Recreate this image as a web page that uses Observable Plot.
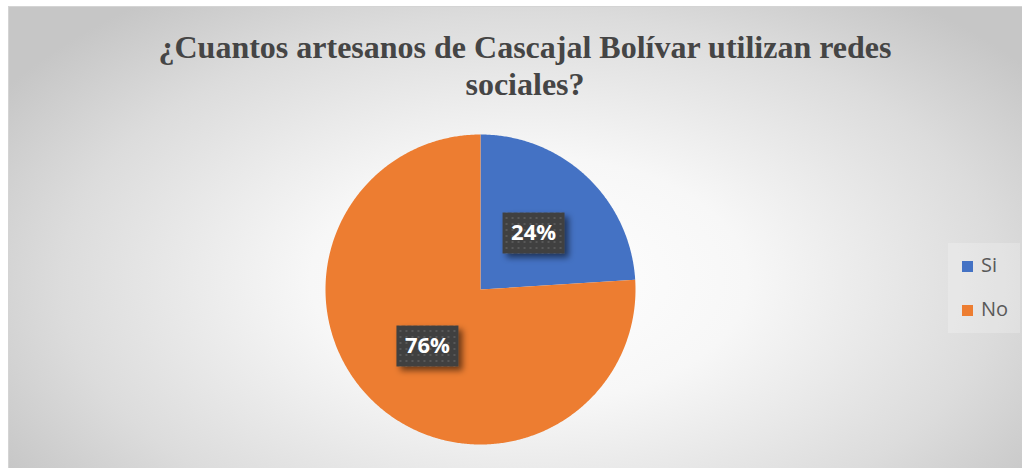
<!DOCTYPE html>
<html>
<head>
<meta charset="utf-8">
<script src="https://cdn.jsdelivr.net/npm/d3@7"></script>
<script src="https://cdn.jsdelivr.net/npm/@observablehq/plot@0.6"></script>
<style>
  html, body { margin: 0; padding: 0; background: #ffffff; width: 1022px; height: 468px; overflow: hidden; position: relative; }
  #frame { position: absolute; left: 8px; top: 6px; width: 1040px; height: 470px; border: 1px solid #d4d4d4;
    background: radial-gradient(ellipse 60% 75% at 50% 58%, #ffffff 0%, #f7f7f7 35%, #dcdcdc 75%, #c6c6c6 100%); }
  #chart { position: absolute; left: 0; top: 0; }
  #title { position: absolute; left: 8px; width: 1034px; top: 29px; text-align: center; font-family: "Liberation Serif", "Times New Roman", serif;
    font-weight: bold; font-size: 32px; line-height: 37px; color: #454545; }
  #legend { position: absolute; left: 948px; top: 243px; width: 72px; height: 90px; background: rgba(255,255,255,0.22); }
  .sw { position: absolute; width: 11px; height: 11px; }
  .lt { position: absolute; font-family: "Open Sans", sans-serif; font-size: 20px; line-height: 20px; color: #595959; }
</style>
</head>
<body>
<div id="frame"></div>
<div id="title"></div>
<div id="legend"></div>
<div id="chart"></div>
<script>
const titleText = "¿Cuantos artesanos de Cascajal Bolívar utilizan redes sociales?";
const categories = ["Si", "No"];
const values = [24, 76];
const labels = ["24%", "76%"];
const colors = ["#4472C4", "#ED7D31"];

// Build slice outlines from the values (unit-circle coordinates, clockwise from top)
const total = d3.sum(values);
const slices = [];
const labelData = [];
let acc = 0;
categories.forEach((cat, i) => {
  const a0 = acc / total * 2 * Math.PI;
  acc += values[i];
  const a1 = acc / total * 2 * Math.PI;
  slices.push({cat, px: 0, py: 0});
  const n = Math.max(2, Math.ceil((a1 - a0) / (Math.PI / 360)));
  for (let k = 0; k <= n; k++) {
    const a = a0 + (a1 - a0) * k / n;
    slices.push({cat, px: Math.sin(a), py: Math.cos(a)});
  }
  slices.push({cat, px: 0, py: 0});
  const am = (a0 + a1) / 2;
  labelData.push({cat, text: labels[i], px: 0.5 * Math.sin(am), py: 0.5 * Math.cos(am)});
});

const boxSymbol = { draw(ctx) { ctx.rect(-31, -20.5, 62, 41); } };

const svg = Plot.plot({
  width: 1022,
  height: 468,
  margin: 0,
  style: { background: "transparent", overflow: "visible" },
  x: { domain: [-1, 1], range: [325, 635], axis: null },
  y: { domain: [-1, 1], range: [444, 134], axis: null },
  color: { domain: categories, range: colors },
  marks: [
    Plot.line(slices, { x: "px", y: "py", z: "cat", fill: "cat", stroke: "none", curve: "linear" }),
    Plot.dot(labelData, { x: "px", y: "py", symbol: boxSymbol, fill: "url(#dots)", stroke: "none" }),
    Plot.text(labelData, { x: "px", y: "py", text: "text", fill: "white", fontSize: 22, fontWeight: "bold", fontFamily: "Open Sans" })
  ]
});

const sel = d3.select(svg);
const defs = sel.insert("defs", ":first-child");
const pat = defs.append("pattern").attr("id", "dots").attr("width", 6).attr("height", 6).attr("patternUnits", "userSpaceOnUse");
pat.append("rect").attr("width", 6).attr("height", 6).attr("fill", "#404040");
pat.append("rect").attr("x", 2).attr("y", 2).attr("width", 2).attr("height", 2).attr("fill", "#585858");
const f = defs.append("filter").attr("id", "shadow").attr("x", "-30%").attr("y", "-30%").attr("width", "170%").attr("height", "170%");
f.append("feDropShadow").attr("dx", 4).attr("dy", 4).attr("stdDeviation", 3).attr("flood-color", "#000").attr("flood-opacity", 0.55);
sel.selectAll("g[aria-label='dot'] path").attr("filter", "url(#shadow)");

document.getElementById("chart").appendChild(svg);

// Title
document.getElementById("title").innerHTML = titleText.replace(" sociales?", "<br>sociales?");

// Legend
const legend = document.getElementById("legend");
categories.forEach((cat, i) => {
  const sw = document.createElement("div");
  sw.className = "sw";
  sw.style.left = "14px";
  sw.style.top = (18 + i * 44) + "px";
  sw.style.background = colors[i];
  legend.appendChild(sw);
  const t = document.createElement("div");
  t.className = "lt";
  t.style.left = "33px";
  t.style.top = (12 + i * 44) + "px";
  t.textContent = cat;
  legend.appendChild(t);
});
</script>
</body>
</html>
